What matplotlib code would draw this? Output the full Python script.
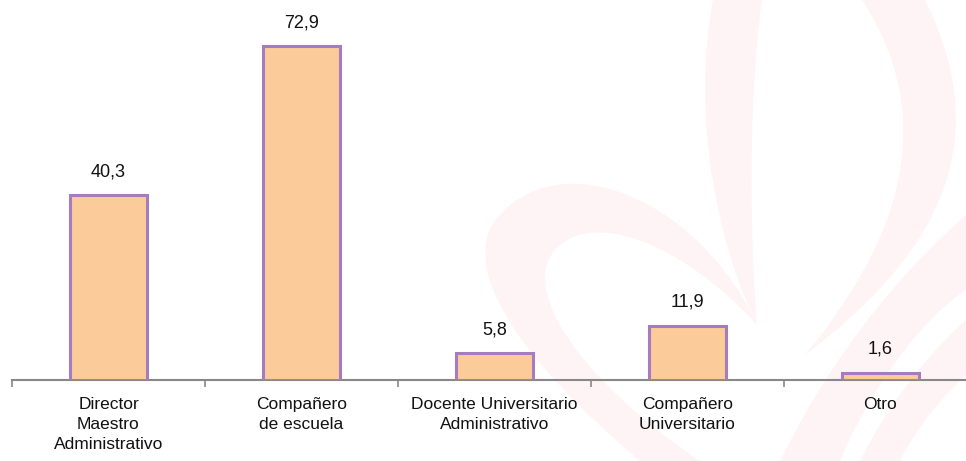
import matplotlib.pyplot as plt
from matplotlib.path import Path
from matplotlib.patches import PathPatch

categories = ['Director\nMaestro\nAdministrativo', 'Compañero\nde escuela',
              'Docente Universitario\nAdministrativo', 'Compañero\nUniversitario', 'Otro']
values = [40.3, 72.9, 5.8, 11.9, 1.6]
value_labels = ['40,3', '72,9', '5,8', '11,9', '1,6']

plt.rcParams['font.family'] = ['Liberation Sans', 'DejaVu Sans']

fig = plt.figure(figsize=(9.66, 4.61), dpi=100)

# faint pink watermark in the background (pixel coordinates, y down)
bg = fig.add_axes([0, 0, 1, 1], zorder=0)
bg.set_xlim(0, 966)
bg.set_ylim(461, 0)
bg.axis('off')
wm = '#fef4f6'
M, C, L, Z = Path.MOVETO, Path.CURVE4, Path.LINETO, Path.CLOSEPOLY
shapes = [
    # big C-shaped sweep in the middle
    ([(757, 325), (700, 200), (560, 140), (495, 220), (460, 270), (520, 360), (640, 461),
      (700, 461), (580, 380), (520, 290), (555, 250), (590, 210), (680, 240), (757, 325), (757, 325)],
     [M, C, C, C, C, C, C, L, C, C, C, C, C, C, Z]),
    # left lobe from the top
    ([(713, 0), (690, 120), (720, 250), (757, 325), (750, 240), (748, 100), (762, 0), (713, 0)],
     [M, C, C, C, C, C, C, Z]),
    # right lobe from the top
    ([(925, 0), (1000, 150), (930, 260), (805, 355), (900, 240), (940, 120), (862, 0), (925, 0)],
     [M, C, C, C, C, C, C, Z]),
    # lower right sweeps
    ([(966, 215), (880, 290), (820, 380), (780, 461), (840, 461), (870, 390), (920, 320), (966, 290), (966, 215)],
     [M, C, C, C, L, C, C, C, Z]),
    ([(966, 320), (920, 360), (880, 420), (860, 461), (900, 461), (920, 420), (950, 390), (966, 375), (966, 320)],
     [M, C, C, C, L, C, C, C, Z]),
]
for verts, codes in shapes:
    bg.add_patch(PathPatch(Path(verts, codes), facecolor=wm, edgecolor='none'))

ax = fig.add_axes([12 / 966, 81 / 461, 965 / 966, 380 / 461], zorder=1)
ax.patch.set_visible(False)

x = range(len(categories))
ax.bar(x, values, width=0.4, color='#fbcb9a', edgecolor='#a67cc0', linewidth=2.2, zorder=3)

for i, v in enumerate(values):
    ax.text(i, v + 3.3, value_labels[i], ha='center', va='bottom', fontsize=13, color='#111111')

ax.set_xlim(-0.5, len(categories) - 0.5)
ax.set_ylim(0, 83)
ax.set_yticks([])
for s in ['top', 'right', 'left']:
    ax.spines[s].set_visible(False)
ax.spines['bottom'].set_color('#888888')
ax.spines['bottom'].set_linewidth(1.5)

# ticks sit between categories, labels under the bars
ax.set_xticks([i - 0.5 for i in range(len(categories))])
ax.set_xticklabels([])
ax.set_xticks(list(x), minor=True)
ax.set_xticklabels(categories, minor=True, fontsize=12.5, linespacing=1.45, color='#111111')
ax.tick_params(axis='x', which='major', length=5, color='#888888', width=1.2)
ax.tick_params(axis='x', which='minor', length=0, pad=12)

fig.savefig('out.png', dpi=100)
